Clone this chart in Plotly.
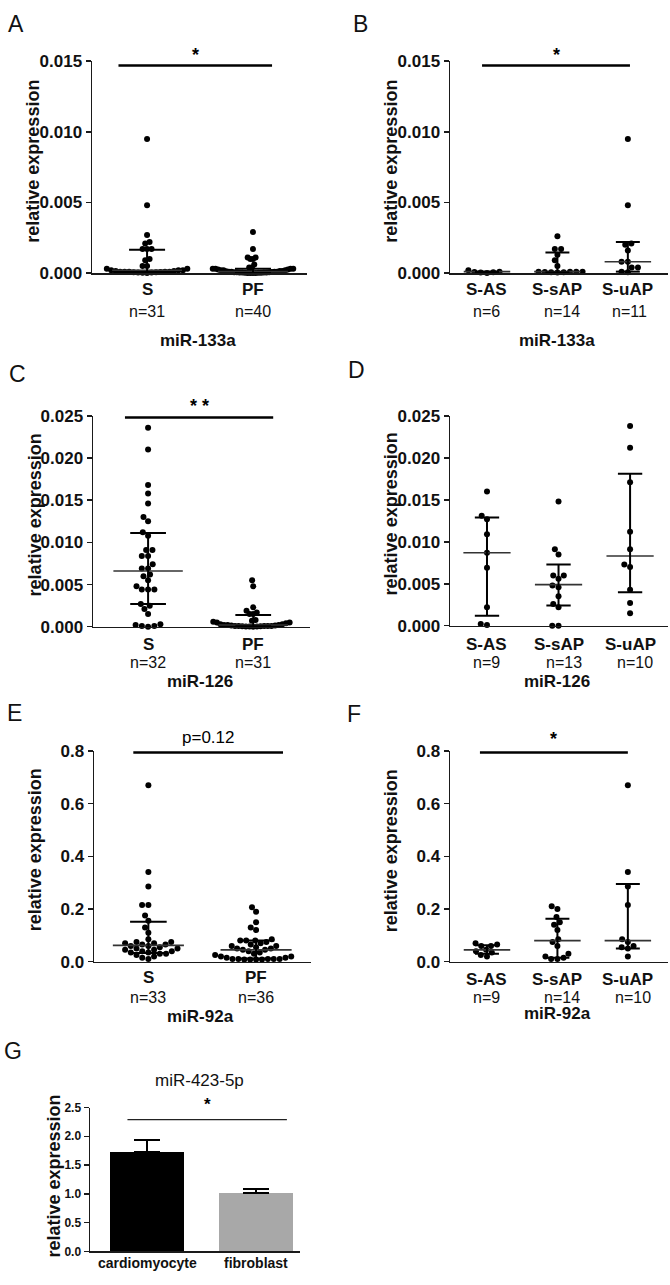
import numpy as np
import plotly.graph_objects as go

W, H = 670, 1285
FONT = "Liberation Sans, Arial, Helvetica, sans-serif"

# ---------------- DATA ----------------
# Panel A: miR-133a, S vs PF
A_cats = ["S", "PF"]
A_n = ["n=31", "n=40"]
A_S = [0.0095, 0.0048, 0.0027, 0.0022, 0.0021, 0.0017, 0.0017, 0.0017, 0.0010, 0.0009,
       0.0005, 0.0005, 0.0003, 0.0003, 0.0002, 0.0002, 0.0002, 0.00015, 0.00015, 0.0001,
       0.0001, 0.0001, 0.0001, 0.0001, 0.00008, 0.00006, 0.00005, 0.00004, 0.00003, 0.00002,
       0.00001]
A_PF = [0.0029, 0.0017, 0.0011, 0.0011, 0.0010, 0.0010, 0.0006, 0.0004, 0.0004, 0.0003,
        0.0003, 0.0003, 0.0003, 0.00025, 0.00025, 0.0002, 0.0002, 0.0002, 0.00015, 0.00015,
        0.00012, 0.0001, 0.0001, 0.0001, 0.0001, 0.00008, 0.00006, 0.00005, 0.00005, 0.00004,
        0.00004, 0.00003, 0.00003, 0.00002, 0.00002, 0.00002, 0.00001, 0.00001, 0.0, 0.0]
A_med = [0.0002, 0.0001]
A_q1 = [0.00005, 0.0]
A_q3 = [0.00165, 0.0003]
A_ticks = [0.0, 0.005, 0.010, 0.015]
A_ticktext = ["0.000", "0.005", "0.010", "0.015"]

# Panel B: miR-133a, S subgroups
B_cats = ["S-AS", "S-sAP", "S-uAP"]
B_n = ["n=6", "n=14", "n=11"]
B_AS = [0.0002, 0.0001, 0.00008, 0.00005, 0.00003, 0.00001]
B_sAP = [0.0026, 0.0017, 0.0017, 0.0013, 0.0009, 0.0005, 0.0001, 0.0001, 0.0001, 0.0001,
         0.00008, 0.00006, 0.00005, 0.00003]
B_uAP = [0.0095, 0.0048, 0.0021, 0.0020, 0.0016, 0.0008, 0.0008, 0.0004, 0.0004, 0.0001, 0.00005]
B_med = [0.0001, 0.0001, 0.0008]
B_q1 = [0.00003, 0.00005, 0.0001]
B_q3 = [0.0001, 0.00145, 0.0022]

# Panel C: miR-126, S vs PF
C_cats = ["S", "PF"]
C_n = ["n=32", "n=31"]
C_S = [0.0236, 0.0210, 0.0168, 0.0158, 0.0146, 0.0130, 0.0125, 0.0112, 0.0108, 0.0091,
       0.0091, 0.0084, 0.0084, 0.0074, 0.0069, 0.0069, 0.0062, 0.0060, 0.0055, 0.0048,
       0.0044, 0.0044, 0.0044, 0.0027, 0.0025, 0.0021, 0.0015, 0.0003, 0.0002, 0.0001,
       0.0001, 0.0]
C_PF = [0.0055, 0.0048, 0.0023, 0.0019, 0.0017, 0.0015, 0.0015, 0.0008, 0.0007, 0.0006,
        0.0005, 0.0005, 0.0004, 0.0003, 0.0003, 0.0002, 0.0002, 0.0002, 0.00015, 0.00015,
        0.0001, 0.0001, 0.0001, 0.0001, 0.00008, 0.00006, 0.00005, 0.00004, 0.00003, 0.00002,
        0.00001]
C_med = [0.0066, 0.0002]
C_q1 = [0.0027, 0.00005]
C_q3 = [0.0111, 0.0014]
C_ticks = [0.0, 0.005, 0.010, 0.015, 0.020, 0.025]
C_ticktext = ["0.000", "0.005", "0.010", "0.015", "0.020", "0.025"]

# Panel D: miR-126, S subgroups
D_cats = ["S-AS", "S-sAP", "S-uAP"]
D_n = ["n=9", "n=13", "n=10"]
D_AS = [0.0160, 0.0131, 0.0127, 0.0109, 0.0087, 0.0069, 0.0022, 0.0002, 0.0001]
D_sAP = [0.0148, 0.0091, 0.0085, 0.0060, 0.0060, 0.0056, 0.0048, 0.0046, 0.0035, 0.0026,
         0.0022, 0.0, 0.0]
D_uAP = [0.0238, 0.0212, 0.0171, 0.0112, 0.0091, 0.0073, 0.0070, 0.0043, 0.0027, 0.0015]
D_med = [0.0087, 0.0049, 0.0083]
D_q1 = [0.0012, 0.0024, 0.0040]
D_q3 = [0.0129, 0.0073, 0.0181]

# Panel E: miR-92a, S vs PF
E_cats = ["S", "PF"]
E_n = ["n=33", "n=36"]
E_S = [0.67, 0.34, 0.285, 0.215, 0.215, 0.175, 0.155, 0.13, 0.11, 0.085,
       0.075, 0.075, 0.07, 0.07, 0.065, 0.065, 0.06, 0.06, 0.055, 0.05,
       0.05, 0.045, 0.045, 0.04, 0.04, 0.035, 0.035, 0.03, 0.03, 0.025,
       0.02, 0.015, 0.01]
E_PF = [0.207, 0.19, 0.15, 0.13, 0.12, 0.085, 0.08, 0.08, 0.08, 0.075,
        0.07, 0.065, 0.06, 0.06, 0.055, 0.05, 0.05, 0.045, 0.045, 0.04,
        0.035, 0.03, 0.025, 0.02, 0.02, 0.015, 0.015, 0.01, 0.01, 0.01,
        0.01, 0.01, 0.008, 0.008, 0.008, 0.008]
E_med = [0.062, 0.045]
E_q1 = [0.033, 0.012]
E_q3 = [0.152, 0.08]
E_ticks = [0.0, 0.2, 0.4, 0.6, 0.8]
E_ticktext = ["0.0", "0.2", "0.4", "0.6", "0.8"]

# Panel F: miR-92a, S subgroups
F_cats = ["S-AS", "S-sAP", "S-uAP"]
F_n = ["n=9", "n=14", "n=10"]
F_AS = [0.07, 0.065, 0.06, 0.06, 0.045, 0.04, 0.035, 0.025, 0.02]
F_sAP = [0.21, 0.20, 0.17, 0.15, 0.14, 0.12, 0.085, 0.075, 0.06, 0.03, 0.02, 0.015, 0.01, 0.01]
F_uAP = [0.67, 0.34, 0.285, 0.215, 0.085, 0.075, 0.06, 0.055, 0.05, 0.02]
F_med = [0.045, 0.08, 0.08]
F_q1 = [0.03, 0.015, 0.05]
F_q3 = [0.062, 0.163, 0.295]

# Panel G: miR-423-5p bars
G_cats = ["cardiomyocyte", "fibroblast"]
G_vals = [1.73, 1.01]
G_err = [0.21, 0.08]
G_ticks = [0.0, 0.5, 1.0, 1.5, 2.0, 2.5]
G_ticktext = ["0.0", "0.5", "1.0", "1.5", "2.0", "2.5"]

# ---------------- LAYOUT HELPERS ----------------
def px_x(px):
    return px / W

def px_y(py):
    return 1 - py / H

fig = go.Figure()
annotations = []
LINE_C = "#1a1a1a"


def beeswarm(vals, ppx, ppy, d=6.3, limit=0.38):
    vals = np.asarray(vals, dtype=float)
    order = np.argsort(vals, kind="stable")
    xs = np.zeros(len(vals))
    placed = []
    for i in order:
        y = vals[i] * ppy
        ivs = []
        for (px, py) in placed:
            dy = abs(py - y)
            if dy < d:
                w = np.sqrt(d * d - dy * dy)
                ivs.append((px - w, px + w))
        cands = [0.0] + [a for a, b in ivs] + [b for a, b in ivs]
        cands.sort(key=lambda c: (abs(c), c))
        for c in cands:
            if all(not (a + 1e-6 < c < b - 1e-6) for a, b in ivs):
                xs[i] = c
                break
        placed.append((xs[i], y))
    xs = xs / ppx
    m = np.max(np.abs(xs)) if len(xs) else 0
    if m > limit:
        xs = xs * limit / m
    return xs


def add_axes(k, x0, x1, ytop, ybot, xr, yr, tickvals, ticktext, tfs=17):
    xa = "xaxis" if k == 1 else f"xaxis{k}"
    ya = "yaxis" if k == 1 else f"yaxis{k}"
    xn = "x" if k == 1 else f"x{k}"
    yn = "y" if k == 1 else f"y{k}"
    fig.update_layout(**{
        xa: dict(domain=[px_x(x0), px_x(x1)], range=xr, anchor=yn, showline=True,
                 linecolor=LINE_C, linewidth=1.5, ticks="", showticklabels=False,
                 showgrid=False, zeroline=False, fixedrange=True),
        ya: dict(domain=[px_y(ybot), px_y(ytop)], range=yr, anchor=xn, showline=True,
                 linecolor=LINE_C, linewidth=1.5, ticks="outside", ticklen=5, tickwidth=1.5,
                 tickcolor=LINE_C, tickvals=tickvals, ticktext=ticktext,
                 tickfont=dict(family=FONT, size=tfs, color="#111", weight="bold"),
                 showgrid=False, zeroline=False, fixedrange=True),
    })
    return xn, yn


def scatter_panel(k, x0, x1, ytop, ybot, xr, yr, tickvals, ticktext, groups, med, q1, q3,
                  cats, ns, n_offsets, lab_y, n_y, mir, mir_y, sig=None, sig_text=None,
                  sig_text_y=None, sig_font=None):
    xn, yn = add_axes(k, x0, x1, ytop, ybot, xr, yr, tickvals, ticktext)
    ppx = (x1 - x0) / (xr[1] - xr[0])
    ppy = (ybot - ytop) / (yr[1] - yr[0])
    for i, g in enumerate(groups):
        offs = beeswarm(g, ppx, ppy)
        fig.add_trace(go.Scatter(x=i + offs, y=g, mode="markers", xaxis=xn, yaxis=yn,
                                 marker=dict(size=6, color="black"), cliponaxis=False,
                                 showlegend=False, hoverinfo="skip"))
    mx, my = [], []
    for i, m in enumerate(med):
        mx += [i - 0.33, i + 0.33, None]
        my += [m, m, None]
    fig.add_trace(go.Scatter(x=mx, y=my, mode="lines", xaxis=xn, yaxis=yn,
                             line=dict(color="#333", width=1.6), cliponaxis=False,
                             showlegend=False, hoverinfo="skip"))
    wx, wy = [], []
    for i in range(len(med)):
        wx += [i, i, None, i - 0.17, i + 0.17, None, i - 0.17, i + 0.17, None]
        wy += [q1[i], q3[i], None, q1[i], q1[i], None, q3[i], q3[i], None]
    fig.add_trace(go.Scatter(x=wx, y=wy, mode="lines", xaxis=xn, yaxis=yn,
                             line=dict(color="black", width=2), cliponaxis=False,
                             showlegend=False, hoverinfo="skip"))
    if sig is not None:
        fig.add_trace(go.Scatter(x=[sig[0], sig[1]], y=[sig[2], sig[2]], mode="lines",
                                 xaxis=xn, yaxis=yn, line=dict(color="black", width=2.5),
                                 cliponaxis=False, showlegend=False, hoverinfo="skip"))
        annotations.append(dict(x=(sig[0] + sig[1]) / 2, y=px_y(sig_text_y), xref=xn,
                                yref="paper", text=sig_text, showarrow=False,
                                xanchor="center", yanchor="middle",
                                font=sig_font or dict(family=FONT, size=18, color="black")))
    for i, c in enumerate(cats):
        annotations.append(dict(x=i, y=px_y(lab_y), xref=xn, yref="paper",
                                text=f"<b>{c}</b>", showarrow=False, xanchor="center",
                                yanchor="middle", font=dict(family=FONT, size=17, color="#111")))
        annotations.append(dict(x=i + n_offsets[i], y=px_y(n_y), xref=xn, yref="paper",
                                text=ns[i], showarrow=False, xanchor="center",
                                yanchor="middle", font=dict(family=FONT, size=16, color="#111")))
    annotations.append(dict(x=px_x((x0 + x1) / 2 - 2), y=px_y(mir_y), xref="paper", yref="paper",
                            text=f"<b>{mir}</b>", showarrow=False, xanchor="center",
                            yanchor="middle", font=dict(family=FONT, size=17, color="#111")))


# Panel A
scatter_panel(1, 92, 307, 53, 268, [-0.52, 1.51], [0, 0.015], A_ticks, A_ticktext,
              [A_S, A_PF], A_med, A_q1, A_q3, A_cats, A_n, [0, 0], 285, 307, "miR-133a", 336,
              sig=(-0.27, 1.18, 0.0147), sig_text="<b>*</b>", sig_text_y=47)
# Panel B
scatter_panel(2, 450, 668, 53, 268, [-0.525, 2.57], [0, 0.015], A_ticks, A_ticktext,
              [B_AS, B_sAP, B_uAP], B_med, B_q1, B_q3, B_cats, B_n, [0, 0.07, 0.03], 285, 307,
              "miR-133a", 336, sig=(-0.07, 2.03, 0.0147), sig_text="<b>*</b>", sig_text_y=47)
# Panel C
scatter_panel(3, 93, 310, 413, 627, [-0.524, 1.54], [0, 0.025], C_ticks, C_ticktext,
              [C_S, C_PF], C_med, C_q1, C_q3, C_cats, C_n, [0, 0], 645, 663, "miR-126", 683,
              sig=(-0.22, 1.19, 0.0248), sig_text="<b>* *</b>", sig_text_y=403)
# Panel D
scatter_panel(4, 450, 668, 413, 626, [-0.517, 2.53], [0, 0.025], C_ticks, C_ticktext,
              [D_AS, D_sAP, D_uAP], D_med, D_q1, D_q3, D_cats, D_n, [0, 0.07, 0.07], 645, 663,
              "miR-126", 683)
# Panel E
scatter_panel(5, 94, 311, 753, 967, [-0.505, 1.51], [0, 0.8], E_ticks, E_ticktext,
              [E_S, E_PF], E_med, E_q1, E_q3, E_cats, E_n, [0, 0], 983, 1003, "miR-92a", 1023,
              sig=(-0.14, 1.25, 0.794), sig_text="p=0.12", sig_text_y=739,
              sig_font=dict(family=FONT, size=17, color="black"))
# Panel F
scatter_panel(6, 450, 668, 753, 967, [-0.525, 2.57], [0, 0.8], E_ticks, E_ticktext,
              [F_AS, F_sAP, F_uAP], F_med, F_q1, F_q3, F_cats, F_n, [0, 0.07, 0.07], 985, 1003,
              "miR-92a", 1020, sig=(-0.1, 2.0, 0.794), sig_text="<b>*</b>", sig_text_y=741)

# Panel G (bars)
xg, yg = add_axes(7, 90, 300, 1115, 1261, [-0.523, 1.40], [0, 2.5], G_ticks, G_ticktext, tfs=12)
fig.add_trace(go.Bar(x=[0, 1], y=G_vals, width=0.68, xaxis=xg, yaxis=yg,
                     marker=dict(color=["#000000", "#a8a8a8"], line=dict(width=0)),
                     error_y=dict(type="data", array=G_err, arrayminus=[0, 0], symmetric=False,
                                  color="black", thickness=2.2, width=13),
                     showlegend=False, hoverinfo="skip"))
fig.add_trace(go.Scatter(x=[-0.18, 1.28], y=[2.29, 2.29], mode="lines", xaxis=xg, yaxis=yg,
                         line=dict(color="#222", width=1.2), cliponaxis=False,
                         showlegend=False, hoverinfo="skip"))
annotations.append(dict(x=0.55, y=px_y(1112), xref=xg, yref="paper", text="<b>*</b>",
                        showarrow=False, xanchor="center", yanchor="middle",
                        font=dict(family=FONT, size=17, color="black")))
annotations.append(dict(x=px_x(200), y=px_y(1088), xref="paper", yref="paper",
                        text="miR-423-5p", showarrow=False, xanchor="center", yanchor="middle",
                        font=dict(family=FONT, size=17, color="#111")))
for i, c in enumerate(G_cats):
    annotations.append(dict(x=i, y=px_y(1273), xref=xg, yref="paper", text=f"<b>{c}</b>",
                            showarrow=False, xanchor="center", yanchor="middle",
                            font=dict(family=FONT, size=14, color="#111")))

# y-axis titles
for (tx, ty) in [(33, 155), (391, 155), (35, 514), (391, 513), (35, 854), (391, 855), (54, 1185)]:
    annotations.append(dict(x=px_x(tx), y=px_y(ty), xref="paper", yref="paper",
                            text="<b>relative expression</b>", textangle=-90, showarrow=False,
                            xanchor="center", yanchor="middle",
                            font=dict(family=FONT, size=18, color="#111")))

# panel letters
for (lt, lx, ly) in [("A", 16, 15), ("B", 360, 15), ("C", 17, 370), ("D", 356, 366),
                     ("E", 14, 715), ("F", 354, 716), ("G", 13, 1058)]:
    annotations.append(dict(x=px_x(lx), y=px_y(ly), xref="paper", yref="paper", text=lt,
                            showarrow=False, xanchor="center", yanchor="middle",
                            font=dict(family=FONT, size=23, color="#111")))

fig.update_layout(width=W, height=H, margin=dict(l=0, r=0, t=0, b=0),
                  paper_bgcolor="white", plot_bgcolor="white", annotations=annotations,
                  showlegend=False, bargap=0)

fig.write_html("out.html", config={"displayModeBar": False, "staticPlot": True},
               post_script="document.body.style.margin='0';document.body.style.padding='0';"
                           "document.documentElement.style.overflow='hidden';")
